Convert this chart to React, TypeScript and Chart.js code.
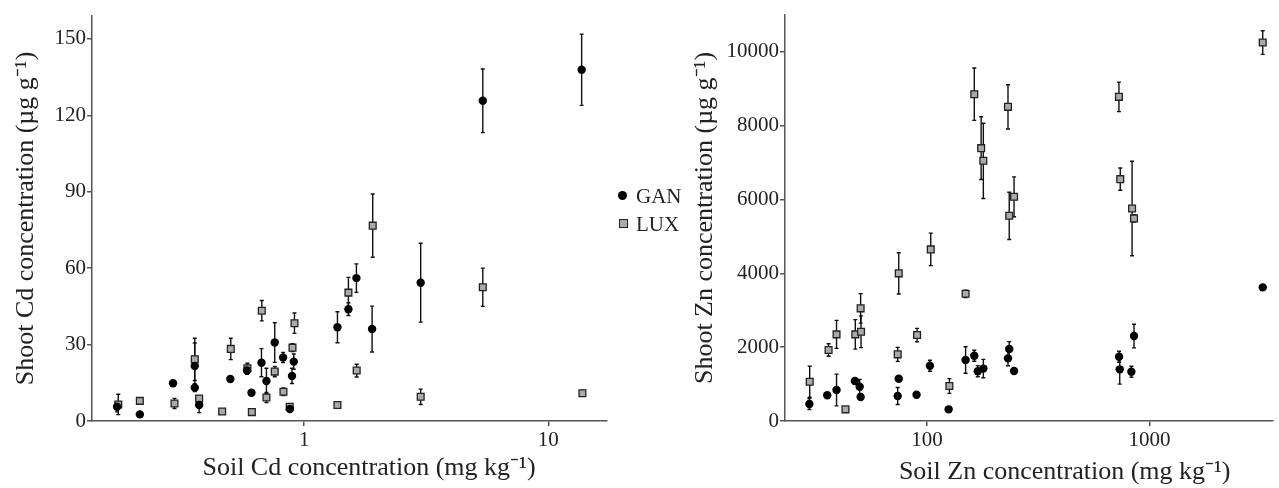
import React, { useEffect, useRef } from "react";
import { Chart, registerables } from "chart.js";

Chart.register(...registerables);

// ---------- Data: Cd panel ----------
const cdXTicks = [1, 10];
const cdYTicks = [0, 30, 60, 90, 120, 150];

const cdSoilGan = [0.171, 0.212, 0.29, 0.356, 0.356, 0.371, 0.498, 0.583, 0.608, 0.668, 0.7, 0.757, 0.819, 0.873, 0.891, 0.906, 1.368, 1.517, 1.636, 1.897, 3.0, 5.39, 13.7];
const cdShootGan = [5.6, 2.6, 14.8, 21.6, 13.1, 6.3, 16.5, 19.8, 11.1, 22.9, 15.7, 30.8, 24.9, 4.7, 17.7, 23.3, 36.8, 43.9, 56.1, 36.1, 54.3, 125.7, 137.9];
const cdErrGan = [2, 0.5, 1, 9, 1.5, 3, 1, 1.5, 0.8, 5.5, 5, 7.8, 2, 0.5, 3, 3, 6.1, 2.5, 5.6, 9, 15.5, 12.5, 14];

const cdSoilLux = [0.173, 0.212, 0.294, 0.356, 0.371, 0.461, 0.5, 0.585, 0.61, 0.67, 0.7, 0.757, 0.822, 0.872, 0.895, 0.912, 1.368, 1.517, 1.64, 1.908, 3.0, 5.39, 13.8];
const cdShootLux = [6.5, 7.9, 6.9, 24.2, 8.8, 3.7, 28.3, 20.7, 3.5, 43.3, 9.2, 19.4, 11.5, 5.6, 28.8, 38.4, 6.3, 50.4, 19.8, 76.7, 9.5, 52.5, 10.9];
const cdErrLux = [4, 1, 2, 8.3, 1, 0.5, 4.2, 2, 0.5, 4, 2, 2, 1.5, 1, 1.5, 4, 0, 6, 2.5, 12.4, 3, 7.5, 0];

// ---------- Data: Zn panel ----------
const znXTicks = [100, 1000];
const znYTicks = [0, 2000, 4000, 6000, 8000, 10000];

const znSoilGan = [29.6, 35.6, 39.2, 47.4, 49.8, 50.3, 74.6, 73.8, 89.7, 103, 125, 149, 163, 169, 179, 231, 234, 246, 729, 734, 828, 851, 3222];
const znShootGan = [460, 696, 839, 1083, 929, 650, 1146, 677, 712, 1497, 316, 1652, 1768, 1350, 1420, 1697, 1950, 1354, 1741, 1400, 1335, 2302, 3620];
const znErrGan = [150, 50, 430, 80, 200, 60, 50, 230, 50, 150, 0, 360, 150, 150, 250, 200, 200, 50, 150, 400, 150, 320, 0];

const znSoilLux = [29.7, 36.1, 39.2, 43.0, 47.6, 50.5, 50.3, 73.8, 74.6, 90.2, 103.9, 126, 149, 163, 175, 179, 231, 234, 246, 728, 738, 834, 851, 3222];
const znShootLux = [1064, 1923, 2347, 316, 2347, 2418, 3052, 1806, 4000, 2329, 4649, 948, 3447, 8855, 7392, 7049, 8511, 5559, 6074, 8782, 6553, 5759, 5489, 10254];
const znErrLux = [420, 170, 380, 50, 400, 430, 400, 190, 560, 180, 440, 200, 100, 710, 850, 1020, 600, 640, 540, 400, 300, 1280, 100, 320];

const seriesNames = ["GAN", "LUX"];

// ---------- Styles ----------
const FONT = "'Liberation Serif', 'Times New Roman', Times, serif";
const AXIS_COLOR = "#555";
const TEXT_COLOR = "#222";
const GAN_COLOR = "#000";
const LUX_FILL = "#aaaaaa";
const LUX_BORDER = "#222";

const errorBarPlugin = {
  id: "errorBars",
  beforeDatasetsDraw(chart: any) {
    const ctx = chart.ctx;
    const xs = chart.scales.x;
    const ys = chart.scales.y;
    ctx.save();
    ctx.strokeStyle = "#111";
    ctx.lineWidth = 1.4;
    chart.data.datasets.forEach((ds: any) => {
      const errs: number[] = ds.errors || [];
      ds.data.forEach((p: any, i: number) => {
        const e = errs[i];
        if (!e) return;
        const px = xs.getPixelForValue(p.x);
        const yTop = ys.getPixelForValue(p.y + e);
        const yBot = ys.getPixelForValue(Math.max(p.y - e, 0));
        ctx.beginPath();
        ctx.moveTo(px, yTop);
        ctx.lineTo(px, yBot);
        ctx.moveTo(px - 2, yTop);
        ctx.lineTo(px + 2, yTop);
        ctx.moveTo(px - 2, yBot);
        ctx.lineTo(px + 2, yBot);
        ctx.stroke();
      });
    });
    ctx.restore();
  },
};

function makePoints(xs: number[], ys: number[]) {
  return xs.map((x, i) => ({ x, y: ys[i] }));
}

function makeConfig(p: {
  soilGan: number[]; shootGan: number[]; errGan: number[];
  soilLux: number[]; shootLux: number[]; errLux: number[];
  xMin: number; xMax: number; yMax: number;
  xTicks: number[]; yTicks: number[];
  xTitle: string; yTitle: string;
  yWidth: number; yTitlePad: number; xTitlePad: number;
  padding: any;
}): any {
  const gridOpts = {
    display: true,
    drawOnChartArea: false,
    drawTicks: true,
    tickLength: 5,
    color: AXIS_COLOR,
    lineWidth: 1.5,
  };
  const borderOpts = { display: true, color: AXIS_COLOR, width: 1.5 };
  return {
    type: "scatter",
    data: {
      datasets: [
        {
          label: seriesNames[0],
          data: makePoints(p.soilGan, p.shootGan),
          errors: p.errGan,
          pointStyle: "circle",
          pointRadius: 4.2,
          backgroundColor: GAN_COLOR,
          borderColor: GAN_COLOR,
          borderWidth: 0,
        },
        {
          label: seriesNames[1],
          data: makePoints(p.soilLux, p.shootLux),
          errors: p.errLux,
          pointStyle: "rect",
          pointRadius: 4.8,
          backgroundColor: LUX_FILL,
          borderColor: LUX_BORDER,
          borderWidth: 1.3,
        },
      ],
    },
    options: {
      responsive: false,
      animation: false,
      events: [],
      layout: { padding: p.padding },
      plugins: { legend: { display: false }, tooltip: { enabled: false } },
      scales: {
        x: {
          type: "logarithmic",
          min: p.xMin,
          max: p.xMax,
          afterBuildTicks: (s: any) => {
            s.ticks = p.xTicks.map((v) => ({ value: v }));
          },
          afterFit: (s: any) => {
            s.height = 67;
          },
          ticks: {
            callback: (v: any) => String(v),
            font: { family: FONT, size: 21 },
            color: TEXT_COLOR,
            padding: 2,
            maxRotation: 0,
            autoSkip: false,
          },
          grid: gridOpts,
          border: borderOpts,
          title: {
            display: true,
            text: p.xTitle,
            font: { family: FONT, size: 26 },
            color: TEXT_COLOR,
            padding: { top: 0, bottom: p.xTitlePad },
          },
        },
        y: {
          type: "linear",
          min: 0,
          max: p.yMax,
          afterBuildTicks: (s: any) => {
            s.ticks = p.yTicks.map((v) => ({ value: v }));
          },
          afterFit: (s: any) => {
            s.width = p.yWidth;
          },
          ticks: {
            font: { family: FONT, size: 21 },
            color: TEXT_COLOR,
            padding: 1,
            callback: (v: any) => String(v),
          },
          grid: gridOpts,
          border: borderOpts,
          title: {
            display: true,
            text: p.yTitle,
            font: { family: FONT, size: 26 },
            color: TEXT_COLOR,
            padding: { top: p.yTitlePad, bottom: 0 },
          },
        },
      },
    },
    plugins: [errorBarPlugin],
  };
}

function ChartCanvas({ config, left, width }: { config: any; left: number; width: number }) {
  const ref = useRef<HTMLCanvasElement | null>(null);
  useEffect(() => {
    if (!ref.current) return;
    const chart = new Chart(ref.current, config);
    return () => chart.destroy();
  }, []);
  return (
    <canvas
      ref={ref}
      width={width}
      height={488}
      style={{ position: "absolute", left, top: 0, width, height: 488, display: "block" }}
    />
  );
}

export default function App() {
  const cdConfig = makeConfig({
    soilGan: cdSoilGan, shootGan: cdShootGan, errGan: cdErrGan,
    soilLux: cdSoilLux, shootLux: cdShootLux, errLux: cdErrLux,
    xMin: 0.135, xMax: 17.4, yMax: 159,
    xTicks: cdXTicks, yTicks: cdYTicks,
    xTitle: "      Soil Cd concentration (mg kg\u207B\u00B9)",
    yTitle: "Shoot Cd concentration (\u00B5g g\u207B\u00B9)",
    yWidth: 92, yTitlePad: 11, xTitlePad: 4,
    padding: { left: 0, top: 16, right: 8, bottom: 0 },
  });
  const znConfig = makeConfig({
    soilGan: znSoilGan, shootGan: znShootGan, errGan: znErrGan,
    soilLux: znSoilLux, shootLux: znShootLux, errLux: znErrLux,
    xMin: 23, xMax: 3580, yMax: 11000,
    xTicks: znXTicks, yTicks: znYTicks,
    xTitle: "           Soil Zn concentration (mg kg\u207B\u00B9)",
    yTitle: "Shoot Zn concentration (\u00B5g g\u207B\u00B9)",
    yWidth: 170, yTitlePad: 75, xTitlePad: 0,
    padding: { left: 0, top: 15, right: 2, bottom: 0 },
  });

  return (
    <div style={{ position: "absolute", left: 0, top: 0, width: 1279, height: 488, background: "#fff", overflow: "hidden" }}>
      <ChartCanvas config={cdConfig} left={0} width={615} />
      <ChartCanvas config={znConfig} left={615} width={664} />
      {/* legend */}
      <div style={{ position: "absolute", left: 618, top: 190.5, width: 9, height: 9, borderRadius: "50%", background: GAN_COLOR }} />
      <div style={{ position: "absolute", left: 636, top: 185.5, font: `21px ${FONT}`, lineHeight: "21px", color: TEXT_COLOR, whiteSpace: "nowrap" }}>
        {seriesNames[0]}
      </div>
      <div style={{ position: "absolute", left: 619, top: 219, width: 7, height: 7, background: LUX_FILL, border: `1.3px solid ${LUX_BORDER}` }} />
      <div style={{ position: "absolute", left: 636, top: 214, font: `21px ${FONT}`, lineHeight: "21px", color: TEXT_COLOR, whiteSpace: "nowrap" }}>
        {seriesNames[1]}
      </div>
    </div>
  );
}
